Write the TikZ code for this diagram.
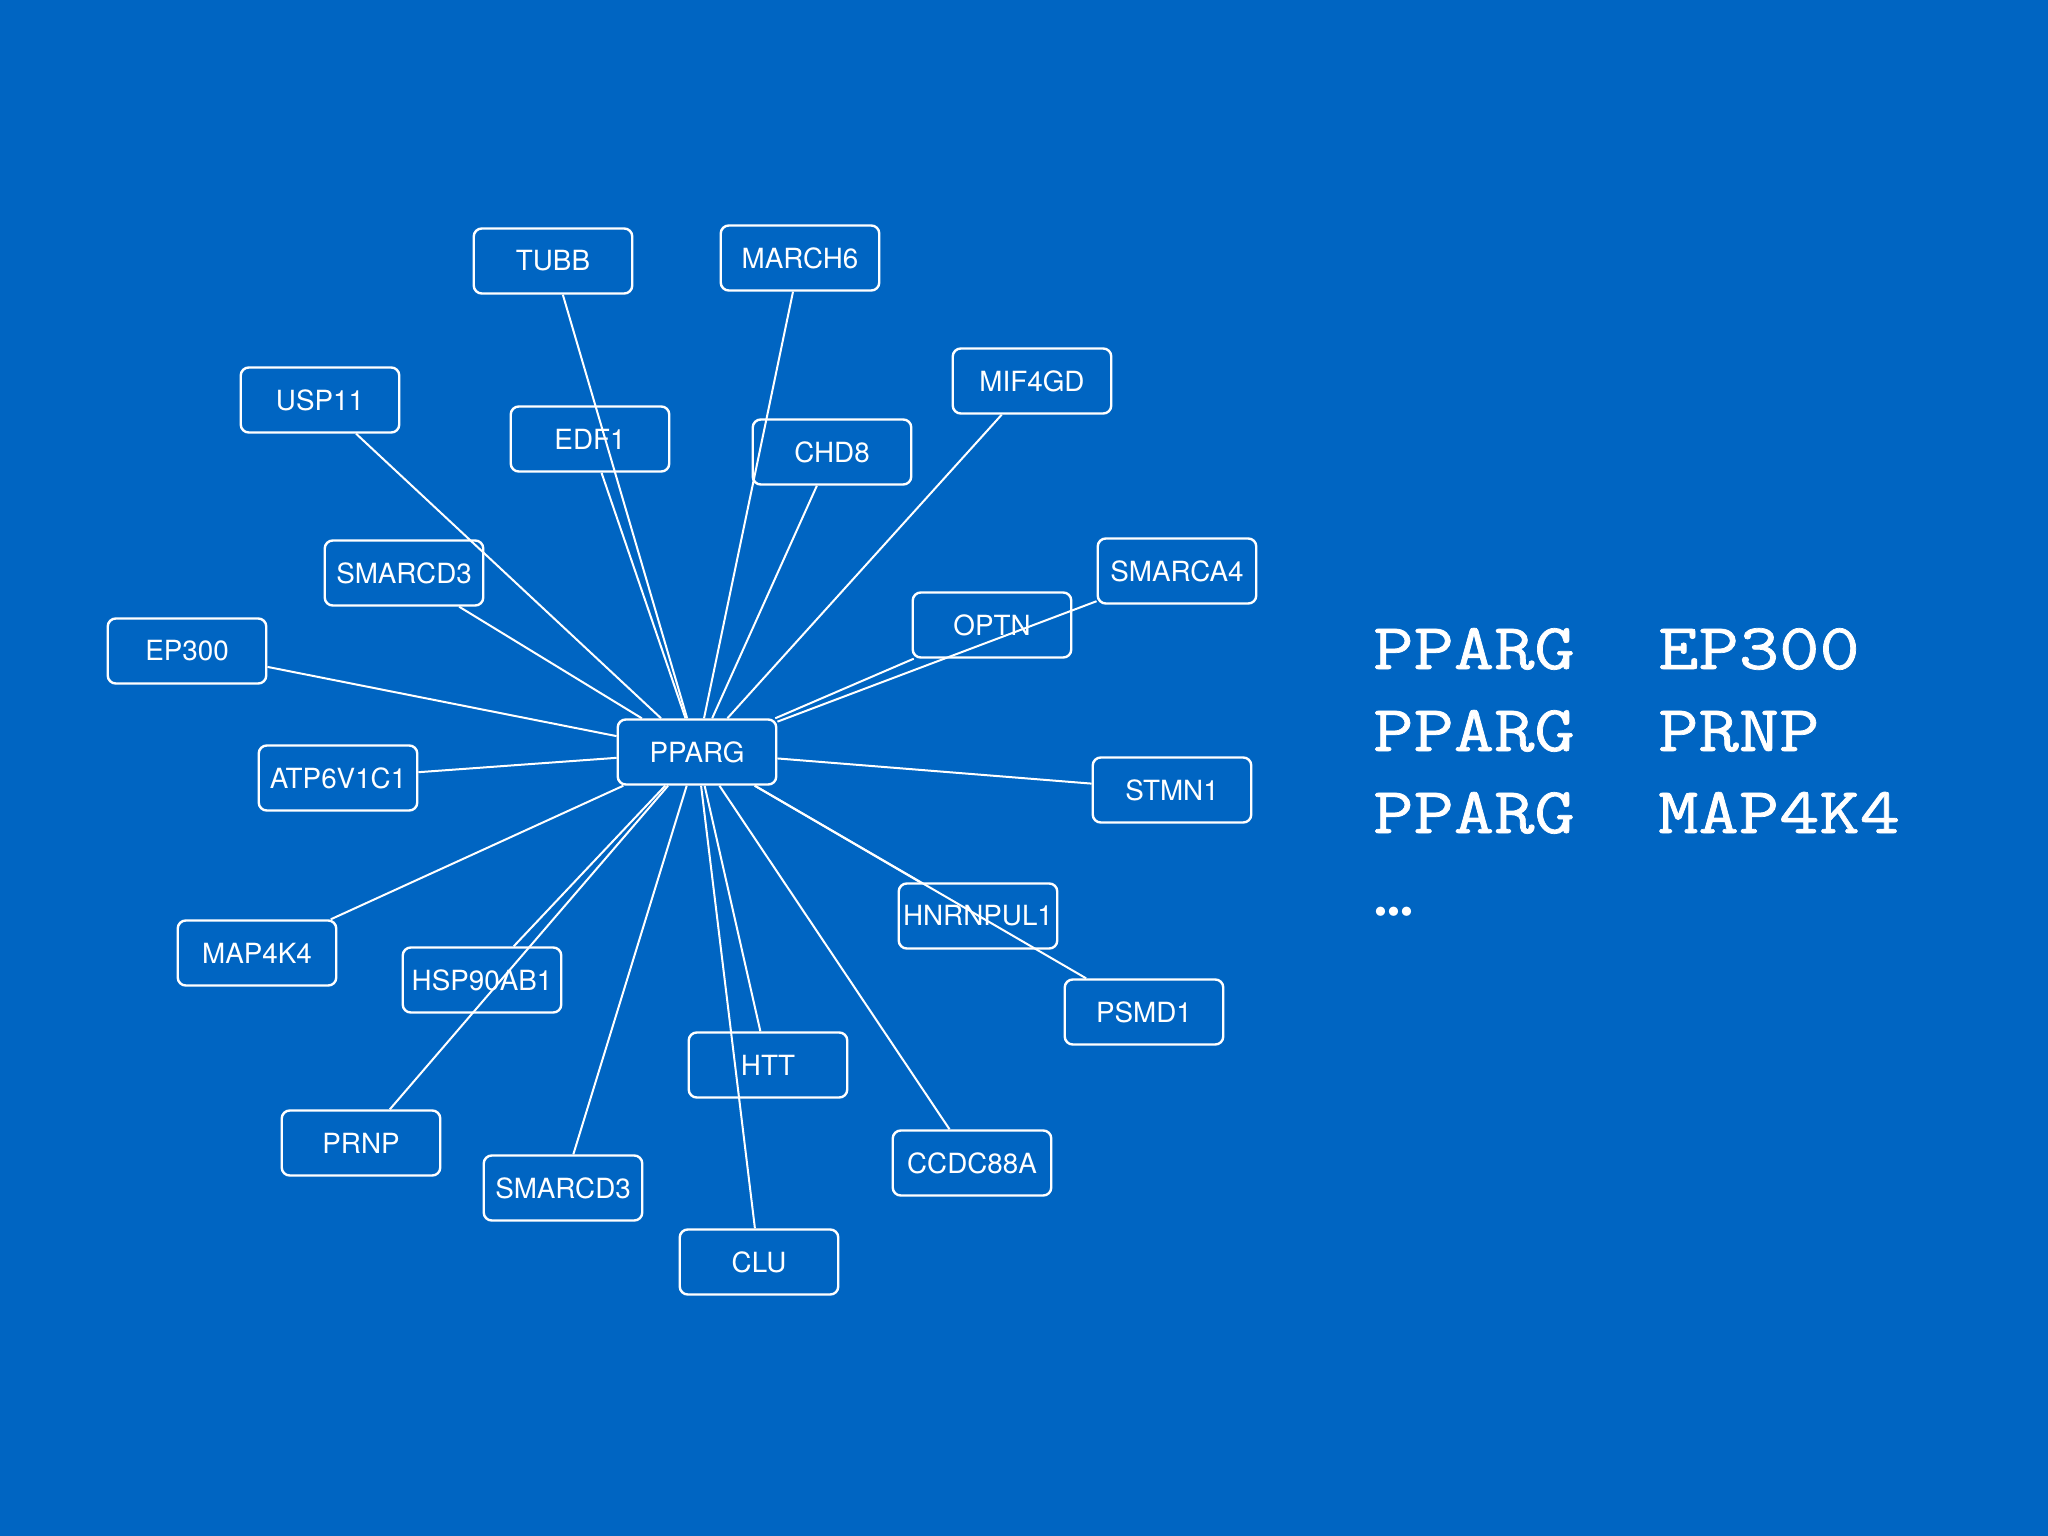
\documentclass[tikz,border=0pt]{standalone}
\usepackage{fontspec}
\setmainfont{TeX Gyre Heros}
\newfontfamily\monof[FakeStretch=1.195,FakeBold=1.1]{Latin Modern Mono}
\definecolor{bg}{RGB}{0,101,194}
\begin{document}
\begin{tikzpicture}[x=1pt,y=-1pt,
  gene/.style={draw=white, line width=2.4pt, rounded corners=8pt, minimum width=158.5pt, minimum height=65pt, inner sep=0pt, text=white, font=\fontsize{27.8}{32}\selectfont},
  link/.style={draw=white, line width=2pt},
  mono/.style={text=white, anchor=base west, inner sep=0pt, font=\monof\fontsize{65.5}{72}\selectfont}]
\fill[bg] (0,0) rectangle (2048,1536);
\useasboundingbox (0,0) rectangle (2048,1536);
\node[gene] (pparg) at (697,752) {PPARG};
\node[gene] (tubb) at (553,261) {TUBB};
\node[gene] (march6) at (800,258) {MARCH6};
\node[gene] (edf1) at (590,439) {EDF1};
\node[gene] (chd8) at (832,452) {CHD8};
\node[gene] (usp11) at (320,400) {USP11};
\node[gene] (mif4gd) at (1032,381) {MIF4GD};
\node[gene] (smarcda) at (404,573) {SMARCD3};
\node[gene] (smarca4) at (1177,571) {SMARCA4};
\node[gene] (optn) at (992,625) {OPTN};
\node[gene] (ep300) at (187,651) {EP300};
\node[gene] (atp) at (338,778) {ATP6V1C1};
\node[gene] (stmn1) at (1172,790) {STMN1};
\node[gene] (map4k4) at (257,953) {MAP4K4};
\node[gene] (hsp) at (482,980) {HSP90AB1};
\node[gene] (hnrn) at (978,916) {HNRNPUL1};
\node[gene] (psmd1) at (1144,1012) {PSMD1};
\node[gene] (htt) at (768,1065) {HTT};
\node[gene] (prnp) at (361,1143) {PRNP};
\node[gene] (smarcdb) at (563,1188) {SMARCD3};
\node[gene] (ccdc) at (972,1163) {CCDC88A};
\node[gene] (clu) at (759,1262) {CLU};
\foreach \t in {tubb,march6,edf1,chd8,usp11,mif4gd,smarcda,smarca4,optn,ep300,atp,stmn1,map4k4,hsp,hnrn,psmd1,htt,prnp,smarcdb,ccdc,clu}
  \draw[link] (pparg) -- (\t);
\node[mono] (l1a) at (1373,669) {PPARG};
\node[mono] (l1b) at (1658,669) {EP300};
\node[mono] (l2a) at (1373,751) {PPARG};
\node[mono] (l2b) at (1658,751) {PRNP};
\node[mono] (l3a) at (1373,833) {PPARG};
\node[mono] (l3b) at (1658,833) {MAP4K4};
\node[text=white, inner sep=0pt, font=\fontsize{37}{40}\selectfont] (dots) at (1394,916) {•••};
\end{tikzpicture}
\end{document}
